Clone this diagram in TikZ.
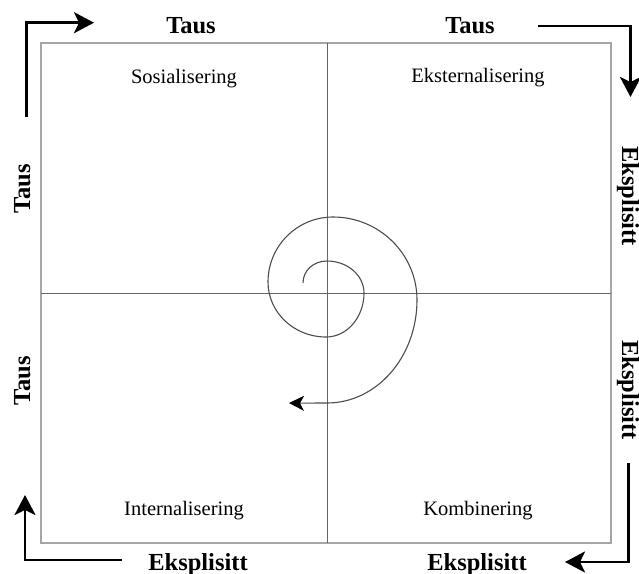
\documentclass[tikz,border=0pt]{standalone}
\usepackage{fontspec}
\setmainfont{Liberation Serif}
\usetikzlibrary{arrows.meta}
\begin{document}
\begin{tikzpicture}[x=1pt,y=-1pt,
  frame/.style={draw=black!35,line width=1.1pt},
  axis/.style={draw=black!60,line width=0.9pt},
  flow/.style={draw=black,line width=2.7pt,
    -{Stealth[length=20pt,width=21pt,inset=5pt]}},
  spiral/.style={draw=black!70,line width=1.1pt,
    -{Stealth[length=15pt,width=15pt,inset=4pt,color=black]}},
  side/.style={font=\fontsize{24.5}{26}\selectfont\bfseries,inner sep=0pt,anchor=base},
  quad/.style={font=\fontsize{20.5}{22}\selectfont,inner sep=0pt,anchor=base}]
\useasboundingbox (0,0) rectangle (639,573);

% frame and the two axes
\coordinate (nw) at (41,43);
\coordinate (se) at (611,543);
\coordinate (tm) at (327,43);
\coordinate (bm) at (327,543);
\coordinate (lm) at (41,293);
\coordinate (rm) at (611,293);
\draw[frame] (nw) rectangle (se);
\draw[axis] (tm) -- (bm);
\draw[axis] (lm) -- (rm);

% quadrant names
\node[quad] (sos) at (184,83) {Sosialisering};
\node[quad] (eks) at (478,82) {Eksternalisering};
\node[quad] (int) at (184,515) {Internalisering};
\node[quad] (kom) at (478,515) {Kombinering};

% dimension labels
\node[side] (tausA) at (191,33) {Taus};
\node[side] (tausB) at (470,33) {Taus};
\node[side] (eksA) at (198,570) {Eksplisitt};
\node[side] (eksB) at (477,570) {Eksplisitt};
\node[side,rotate=90] (tausL1) at (30,189) {Taus};
\node[side,rotate=90] (tausL2) at (30,381) {Taus};
\node[side,rotate=-90] (eksR1) at (622,196) {Eksplisitt};
\node[side,rotate=-90] (eksR2) at (622,390) {Eksplisitt};

% corner arrows
\coordinate (a1s) at (26.5,117);
\coordinate (a1c) at (26.5,22.7);
\coordinate (a1e) at (94,22.7);
\draw[flow] (a1s) -- (a1c) -- (a1e);
\coordinate (a2s) at (538,26);
\coordinate (a2c) at (630.5,26);
\coordinate (a2e) at (630.5,97);
\draw[flow] (a2s) -- (a2c) -- (a2e);
\coordinate (a3s) at (628.3,463);
\coordinate (a3c) at (628.3,562);
\coordinate (a3e) at (565,562);
\draw[flow] (a3s) -- (a3c) -- (a3e);
\coordinate (a4s) at (122,560);
\coordinate (a4c) at (25,560);
\coordinate (a4e) at (25,495);
\draw[flow] (a4s) -- (a4c) -- (a4e);

% spiral, built from quarter-ellipse Bezier pieces
\coordinate (s0) at (303,283);
\coordinate (s1) at (327,261);
\coordinate (s2) at (364,293);
\coordinate (s3) at (326,337);
\coordinate (s4) at (268,282);
\coordinate (s5) at (333,217);
\coordinate (s6) at (417,300);
\coordinate (s7) at (327,403);
\coordinate (s8) at (289,403);
\draw[spiral] (s0)
  .. controls (303,271) and (313,261) .. (s1)
  .. controls (347.4,261) and (364,275.3) .. (s2)
  .. controls (364,317.3) and (347,337) .. (s3)
  .. controls (294,337) and (268,312.4) .. (s4)
  .. controls (268,246.1) and (297.1,217) .. (s5)
  .. controls (379.4,217) and (417,254.2) .. (s6)
  .. controls (417,356.9) and (376.7,403) .. (s7)
  .. controls (312,403) and (300,403.2) .. (s8);
\end{tikzpicture}
\end{document}
